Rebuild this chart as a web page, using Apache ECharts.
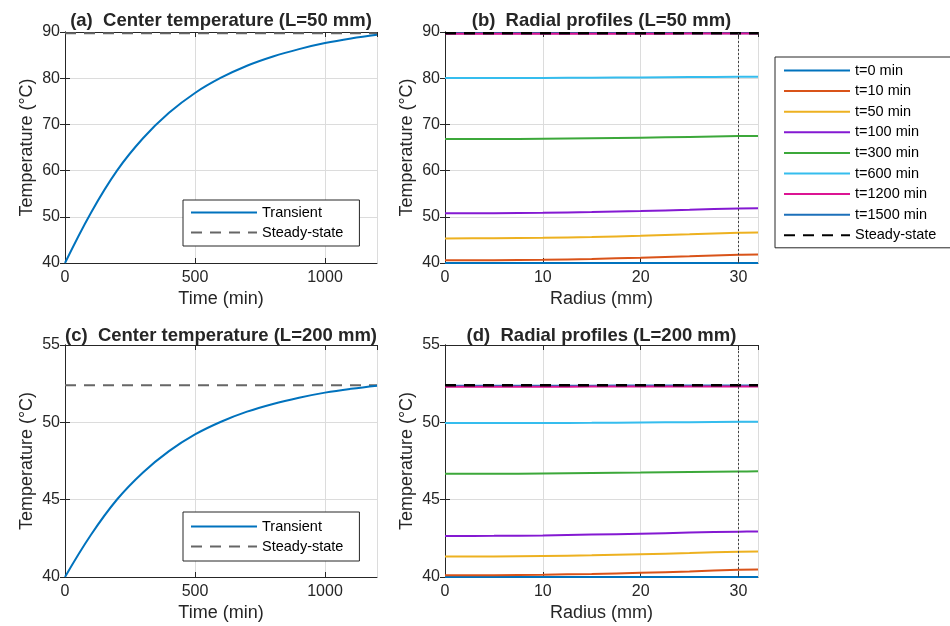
<!DOCTYPE html>
<html>
<head>
<meta charset="utf-8">
<script src="https://cdn.jsdelivr.net/npm/echarts@6/dist/echarts.min.js"></script>
<style>
html,body{margin:0;padding:0;background:#fff;}
#chart{width:950px;height:626px;}
</style>
</head>
<body>
<div id="chart"></div>
<script>
// ---------------- DATA ----------------
const timeMin = [0, 100, 200, 300, 400, 500, 600, 700, 800, 900, 1000, 1100, 1200];
const centerTempL50 = [40, 50.9, 60.0, 67.0, 72.5, 76.8, 80.1, 82.7, 84.7, 86.3, 87.6, 88.6, 89.4];
const centerTempL200 = [40, 42.73, 45.01, 46.76, 48.14, 49.22, 50.04, 50.69, 51.19, 51.59, 51.92, 52.17, 52.37];
const steadyL50 = 89.75;
const steadyL200 = 52.4;

const radiusMm = [0, 5, 10, 15, 20, 25, 30, 32];
const boundaryRadius = 30;
const profileNames = ['t=0 min', 't=10 min', 't=50 min', 't=100 min', 't=300 min', 't=600 min', 't=1200 min', 't=1500 min'];

const profL50_t0    = [40, 40, 40, 40, 40, 40, 40, 40];
const profL50_t10   = [40.58, 40.62, 40.70, 40.88, 41.15, 41.45, 41.80, 41.85];
const profL50_t50   = [45.32, 45.36, 45.46, 45.64, 45.90, 46.22, 46.57, 46.62];
const profL50_t100  = [50.75, 50.79, 50.88, 51.03, 51.25, 51.52, 51.82, 51.85];
const profL50_t300  = [66.82, 66.84, 66.90, 66.99, 67.12, 67.29, 67.48, 67.50];
const profL50_t600  = [80.02, 80.03, 80.06, 80.11, 80.17, 80.24, 80.31, 80.33];
const profL50_t1200 = [89.62, 89.62, 89.63, 89.63, 89.64, 89.65, 89.66, 89.66];
const profL50_t1500 = [89.72, 89.72, 89.72, 89.73, 89.73, 89.74, 89.75, 89.75];

const profL200_t0    = [40, 40, 40, 40, 40, 40, 40, 40];
const profL200_t10   = [40.11, 40.12, 40.15, 40.20, 40.27, 40.36, 40.47, 40.48];
const profL200_t50   = [41.32, 41.33, 41.36, 41.40, 41.47, 41.55, 41.64, 41.65];
const profL200_t100  = [42.65, 42.66, 42.69, 42.74, 42.80, 42.87, 42.93, 42.94];
const profL200_t300  = [46.67, 46.67, 46.69, 46.72, 46.75, 46.79, 46.82, 46.83];
const profL200_t600  = [49.95, 49.95, 49.96, 49.97, 49.99, 50.01, 50.03, 50.03];
const profL200_t1200 = [52.30, 52.30, 52.30, 52.31, 52.31, 52.31, 52.32, 52.32];
const profL200_t1500 = [52.37, 52.37, 52.37, 52.37, 52.38, 52.38, 52.38, 52.38];

const xTicksTime = [0, 500, 1000];
const xTicksRadius = [0, 10, 20, 30];
const yTicksL50 = [40, 50, 60, 70, 80, 90];
const yTicksL200 = [40, 45, 50, 55];

const titles = ['(a)  Center temperature (L=50 mm)', '(b)  Radial profiles (L=50 mm)',
                '(c)  Center temperature (L=200 mm)', '(d)  Radial profiles (L=200 mm)'];

// ---------------- STYLE ----------------
const profileColors = ['#0072BD', '#D95319', '#EDB120', '#8419D2', '#3CA83A', '#35BDEE', '#DC1493', '#1C70BA'];
const profileZ = [3.0, 3.1, 3.2, 3.3, 3.4, 3.5, 3.7, 3.6];
const FONT = '"Liberation Sans", Arial, Helvetica, sans-serif';
const AX = '#262626';

const profL50 = [profL50_t0, profL50_t10, profL50_t50, profL50_t100, profL50_t300, profL50_t600, profL50_t1200, profL50_t1500];
const profL200 = [profL200_t0, profL200_t10, profL200_t50, profL200_t100, profL200_t300, profL200_t600, profL200_t1200, profL200_t1500];

const grids = [
  {left: 65, top: 32, width: 312, height: 231},
  {left: 445, top: 32, width: 313, height: 231},
  {left: 65, top: 345, width: 312, height: 232},
  {left: 445, top: 345, width: 313, height: 232}
];

const plainLabel = v => String(v);

function xMain(gi, min, max, interval, name) {
  return {
    type: 'value', gridIndex: gi, position: 'bottom', min, max, interval,
    name, nameLocation: 'middle', nameGap: 27,
    nameTextStyle: {fontFamily: FONT, fontSize: 18, color: AX},
    axisLine: {show: true, lineStyle: {color: AX, width: 1}},
    axisTick: {show: true, inside: true, length: 5, lineStyle: {color: AX}},
    axisLabel: {show: true, fontFamily: FONT, fontSize: 16, color: AX, margin: 7, showMaxLabel: false, formatter: plainLabel},
    splitLine: {show: true, lineStyle: {color: '#dcdcdc', width: 1}}
  };
}
function xTop(gi, min, max, interval) {
  return {
    type: 'value', gridIndex: gi, position: 'top', min, max, interval,
    axisLine: {show: true, lineStyle: {color: AX, width: 1}},
    axisTick: {show: true, inside: true, length: 5, lineStyle: {color: AX}},
    axisLabel: {show: false}, splitLine: {show: false}
  };
}
function yMain(gi, min, max, interval) {
  return {
    type: 'value', gridIndex: gi, position: 'left', min, max, interval,
    name: 'Temperature (°C)', nameLocation: 'middle', nameGap: 29,
    nameTextStyle: {fontFamily: FONT, fontSize: 18, color: AX},
    axisLine: {show: true, lineStyle: {color: AX, width: 1}},
    axisTick: {show: true, inside: true, length: 5, lineStyle: {color: AX}},
    axisLabel: {show: true, fontFamily: FONT, fontSize: 16, color: AX, margin: 5, formatter: plainLabel},
    splitLine: {show: true, lineStyle: {color: '#dcdcdc', width: 1}}
  };
}
function yRight(gi, min, max, interval) {
  return {
    type: 'value', gridIndex: gi, position: 'right', min, max, interval,
    axisLine: {show: true, lineStyle: {color: AX, width: 1}},
    axisTick: {show: true, inside: true, length: 5, lineStyle: {color: AX}},
    axisLabel: {show: false}, splitLine: {show: false}
  };
}

const tMax = timeMin[timeMin.length - 1];
const rMax = radiusMm[radiusMm.length - 1];
const xAxes = [
  xMain(0, xTicksTime[0], tMax, xTicksTime[1] - xTicksTime[0], 'Time (min)'),
  xMain(1, xTicksRadius[0], rMax, xTicksRadius[1] - xTicksRadius[0], 'Radius (mm)'),
  xMain(2, xTicksTime[0], tMax, xTicksTime[1] - xTicksTime[0], 'Time (min)'),
  xMain(3, xTicksRadius[0], rMax, xTicksRadius[1] - xTicksRadius[0], 'Radius (mm)'),
  xTop(0, xTicksTime[0], tMax, xTicksTime[1] - xTicksTime[0]),
  xTop(1, xTicksRadius[0], rMax, xTicksRadius[1] - xTicksRadius[0]),
  xTop(2, xTicksTime[0], tMax, xTicksTime[1] - xTicksTime[0]),
  xTop(3, xTicksRadius[0], rMax, xTicksRadius[1] - xTicksRadius[0])
];
const yL50 = [yTicksL50[0], yTicksL50[yTicksL50.length - 1], yTicksL50[1] - yTicksL50[0]];
const yL200 = [yTicksL200[0], yTicksL200[yTicksL200.length - 1], yTicksL200[1] - yTicksL200[0]];
const yAxes = [
  yMain(0, ...yL50), yMain(1, ...yL50), yMain(2, ...yL200), yMain(3, ...yL200),
  yRight(0, ...yL50), yRight(1, ...yL50), yRight(2, ...yL200), yRight(3, ...yL200)
];

const series = [];
function pairs(xs, ys) { return xs.map((x, i) => [x, ys[i]]); }

// Center temperature panels
[[0, centerTempL50, steadyL50], [2, centerTempL200, steadyL200]].forEach(([gi, temps, ss]) => {
  series.push({
    name: 'Steady-state', type: 'line', xAxisIndex: gi, yAxisIndex: gi,
    data: [[timeMin[0], ss], [tMax, ss]],
    showSymbol: false, symbol: 'none', clip: false, silent: true,
    lineStyle: {color: '#666666', width: 2, type: [11, 8]}, itemStyle: {color: '#666666'}, z: 3
  });
  series.push({
    name: 'Transient', type: 'line', xAxisIndex: gi, yAxisIndex: gi,
    data: pairs(timeMin, temps), smooth: 0.4,
    showSymbol: false, symbol: 'none', clip: false, silent: true,
    lineStyle: {color: '#0072BD', width: 2}, itemStyle: {color: '#0072BD'}, z: 4
  });
});

// Radial profile panels
[[1, profL50, steadyL50], [3, profL200, steadyL200]].forEach(([gi, profs, ss]) => {
  profs.forEach((p, k) => {
    const s = {
      name: profileNames[k], type: 'line', xAxisIndex: gi, yAxisIndex: gi,
      data: pairs(radiusMm, p), smooth: 0.3,
      showSymbol: false, symbol: 'none', clip: false, silent: true,
      lineStyle: {color: profileColors[k], width: 2}, itemStyle: {color: profileColors[k]}, z: profileZ[k]
    };
    if (k === 0) {
      s.markLine = {
        silent: true, symbol: 'none', label: {show: false},
        lineStyle: {color: '#444', width: 1, type: [2, 2]},
        data: [{xAxis: boundaryRadius}]
      };
    }
    series.push(s);
  });
  series.push({
    name: 'Steady-state ', type: 'line', xAxisIndex: gi, yAxisIndex: gi,
    data: [[radiusMm[0], ss], [rMax, ss]],
    showSymbol: false, symbol: 'none', clip: false, silent: true,
    lineStyle: {color: '#000', width: 2.5, type: [11, 8]}, itemStyle: {color: '#000'}, z: 4
  });
});

const legendText = {fontFamily: FONT, fontSize: 14.5, color: '#000', lineHeight: 14};
const legends = [
  {left: 183, top: 200, orient: 'vertical', data: ['Transient', 'Steady-state'],
   itemWidth: 66, itemHeight: 14, itemGap: 5, padding: [5, 16, 6, 7]},
  {left: 183, top: 512, orient: 'vertical', data: ['Transient', 'Steady-state'],
   itemWidth: 66, itemHeight: 14, itemGap: 5, padding: [7, 16, 7, 7]},
  {left: 775, top: 57, orient: 'vertical', data: profileNames.concat(['Steady-state ']),
   itemWidth: 66, itemHeight: 14, itemGap: 5.6, padding: [6, 12, 5, 8]}
].map(l => Object.assign(l, {
  selectedMode: false, backgroundColor: '#fff', borderColor: AX, borderWidth: 1, borderRadius: 0,
  itemStyle: {opacity: 0}, textStyle: legendText
}));

const titleCenters = [221, 601.5, 221, 601.5];
const titleTops = [11, 11, 326, 326];
const titleComps = titles.map((t, i) => ({
  text: t, left: titleCenters[i], top: titleTops[i], textAlign: 'center', padding: 0,
  textStyle: {fontFamily: FONT, fontSize: 18.5, fontWeight: 'bold', color: AX}
}));

const chart = echarts.init(document.getElementById('chart'), null, {renderer: 'canvas'});
chart.setOption({
  animation: false,
  backgroundColor: '#fff',
  title: titleComps,
  grid: grids.map(g => Object.assign({containLabel: false}, g)),
  xAxis: xAxes,
  yAxis: yAxes,
  legend: legends,
  series
});
</script>
</body>
</html>
